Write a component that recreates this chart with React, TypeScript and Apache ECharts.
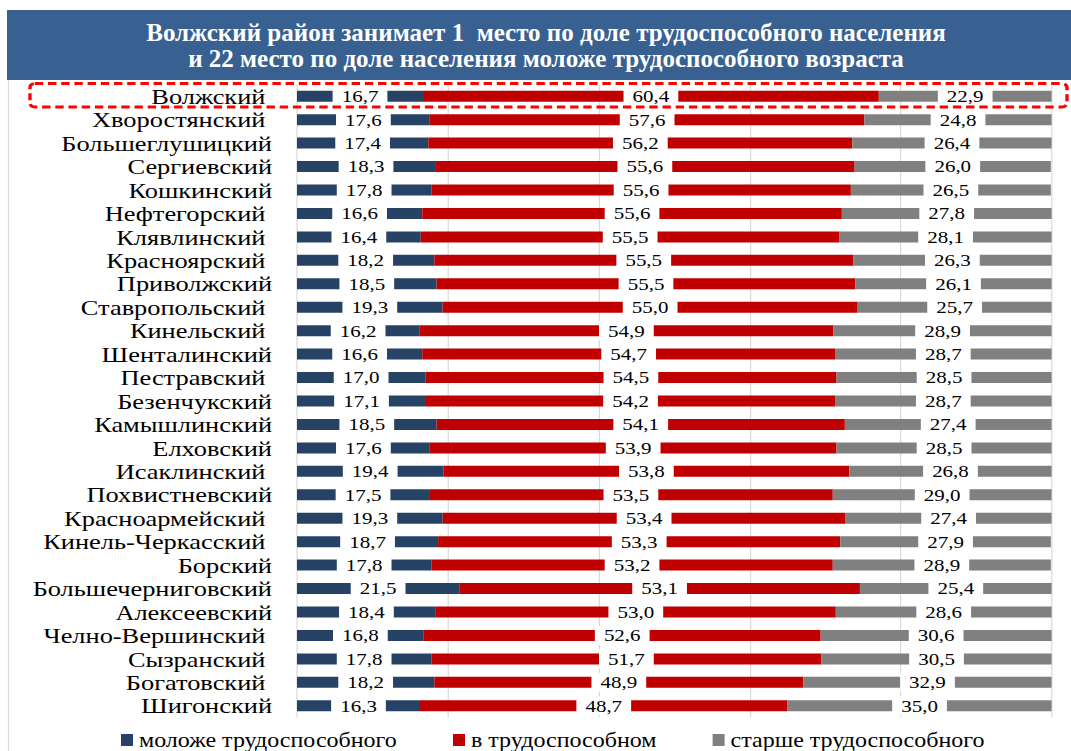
import React, { useEffect, useRef } from "react";
import * as echarts from "echarts";

const categories = [
  "Волжский\u00A0",
  "Хворостянский\u00A0",
  "Большеглушицкий",
  "Сергиевский",
  "Кошкинский",
  "Нефтегорский\u00A0",
  "Клявлинский\u00A0",
  "Красноярский\u00A0",
  "Приволжский",
  "Ставропольский\u00A0",
  "Кинельский\u00A0",
  "Шенталинский",
  "Пестравский\u00A0",
  "Безенчукский",
  "Камышлинский",
  "Елховский",
  "Исаклинский\u00A0",
  "Похвистневский",
  "Красноармейский\u00A0",
  "Кинель-Черкасский\u00A0",
  "Борский",
  "Большечерниговский",
  "Алексеевский",
  "Челно-Вершинский\u00A0",
  "Сызранский\u00A0",
  "Богатовский\u00A0",
  "Шигонский",
];

const younger = [16.7, 17.6, 17.4, 18.3, 17.8, 16.6, 16.4, 18.2, 18.5, 19.3, 16.2, 16.6, 17.0, 17.1, 18.5, 17.6, 19.4, 17.5, 19.3, 18.7, 17.8, 21.5, 18.4, 16.8, 17.8, 18.2, 16.3];
const working = [60.4, 57.6, 56.2, 55.6, 55.6, 55.6, 55.5, 55.5, 55.5, 55.0, 54.9, 54.7, 54.5, 54.2, 54.1, 53.9, 53.8, 53.5, 53.4, 53.3, 53.2, 53.1, 53.0, 52.6, 51.7, 48.9, 48.7];
const older = [22.9, 24.8, 26.4, 26.0, 26.5, 27.8, 28.1, 26.3, 26.1, 25.7, 28.9, 28.7, 28.5, 28.7, 27.4, 28.5, 26.8, 29.0, 27.4, 27.9, 28.9, 25.4, 28.6, 30.6, 30.5, 32.9, 35.0];

const seriesNames = ["моложе трудоспособного", "в трудоспособном", "старше трудоспособного"];
const seriesColors = ["#264366", "#C00000", "#808080"];

const titleLines = [
  "Волжский район занимает 1  место по доле трудоспособного населения",
  "и 22 место по доле населения моложе трудоспособного возраста",
];

const FONT = '"Liberation Serif", "Times New Roman", serif';
const W = 1071;
const H = 751;
const S = 1.2; // horizontal stretch of the chart body, as in the reference

export default function App() {
  const titleRef = useRef<HTMLDivElement>(null);
  const chartRef = useRef<HTMLDivElement>(null);
  useEffect(() => {
    if (!titleRef.current || !chartRef.current) return;
    const tChart = echarts.init(titleRef.current, undefined, { renderer: "svg" });
    const chart = echarts.init(chartRef.current, undefined, { renderer: "svg" });

    tChart.setOption({
      animation: false,
      graphic: [
        {
          type: "rect",
          shape: { x: 7, y: 10, width: W - 7, height: 70 },
          style: { fill: "#386192" },
          silent: true,
          z: 0,
        },
      ],
      title: {
        text: titleLines.join("\n"),
        left: 546,
        top: 20,
        padding: 0,
        textAlign: "center",
        textStyle: {
          color: "#ffffff",
          fontSize: 25,
          fontWeight: "bold",
          fontFamily: FONT,
          lineHeight: 25.5,
        },
        z: 10,
      },
    });

    const data = [younger, working, older];
    const cw = W / S;
    chart.setOption({
      animation: false,
      textStyle: { fontFamily: FONT },
      graphic: [
        {
          type: "line",
          shape: { x1: 8.5 / S, y1: 80, x2: 8.5 / S, y2: H },
          style: { stroke: "#D9D9D9", lineWidth: 1 },
          silent: true,
        },
        {
          type: "rect",
          shape: { x: 30 / S, y: 83.5, width: 1037 / S, height: 23.5, r: 4 },
          style: { fill: "none", stroke: "#FF0000", lineWidth: 2.8, lineDash: [7, 4] },
          z: 100,
          silent: true,
        },
      ],
      legend: {
        data: seriesNames,
        left: 121 / S,
        top: 730,
        padding: 0,
        icon: "rect",
        itemWidth: 12 / S,
        itemHeight: 12,
        itemGap: 56 / S,
        textStyle: { fontSize: 20, color: "#000", fontFamily: FONT },
      },
      grid: { left: 297 / S, right: cw - 1051 / S, top: 84.5, bottom: 33.5, containLabel: false },
      xAxis: {
        type: "value",
        min: 0,
        max: 100,
        interval: 20,
        axisLabel: { show: false },
        axisLine: { show: false },
        axisTick: { show: false },
        splitLine: { show: true, lineStyle: { color: "#D9D9D9", width: 1 } },
      },
      yAxis: {
        type: "category",
        data: categories,
        inverse: true,
        axisLine: { show: false },
        axisTick: { show: false },
        axisLabel: { interval: 0, fontSize: 22, color: "#000", fontFamily: FONT, margin: 25 / S },
      },
      series: seriesNames.map((name, i) => ({
        name,
        type: "bar",
        stack: "total",
        barWidth: 11,
        itemStyle: { color: seriesColors[i] },
        label: {
          show: true,
          position: "inside",
          color: "#000",
          fontSize: 17.5,
          fontFamily: FONT,
          backgroundColor: "#ffffff",
          padding: [1, 7.5, 0, 7.5],
          formatter: (p: any) => Number(p.value).toFixed(1).replace(".", ","),
        },
        data: data[i],
      })),
    });
    return () => {
      tChart.dispose();
      chart.dispose();
    };
  }, []);
  return (
    <div style={{ position: "fixed", left: 0, top: 0, width: W, height: H, background: "#fff", overflow: "hidden" }}>
      <div
        ref={chartRef}
        style={{
          position: "absolute",
          left: 0,
          top: 0,
          width: W / S,
          height: H,
          transform: `scaleX(${S})`,
          transformOrigin: "0 0",
        }}
      />
      <div ref={titleRef} style={{ position: "absolute", left: 0, top: 0, width: W, height: 82 }} />
    </div>
  );
}
